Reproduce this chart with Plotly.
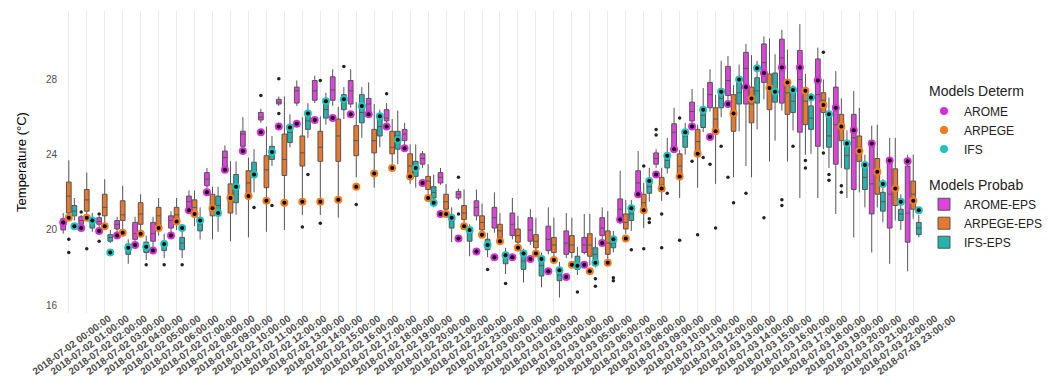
import plotly.graph_objects as go

hours = [
    "2018-07-02 00:00:00", "2018-07-02 01:00:00", "2018-07-02 02:00:00", "2018-07-02 03:00:00",
    "2018-07-02 04:00:00", "2018-07-02 05:00:00", "2018-07-02 06:00:00", "2018-07-02 07:00:00",
    "2018-07-02 08:00:00", "2018-07-02 09:00:00", "2018-07-02 10:00:00", "2018-07-02 11:00:00",
    "2018-07-02 12:00:00", "2018-07-02 13:00:00", "2018-07-02 14:00:00", "2018-07-02 15:00:00",
    "2018-07-02 16:00:00", "2018-07-02 17:00:00", "2018-07-02 18:00:00", "2018-07-02 19:00:00",
    "2018-07-02 20:00:00", "2018-07-02 21:00:00", "2018-07-02 22:00:00", "2018-07-02 23:00:00",
    "2018-07-03 00:00:00", "2018-07-03 01:00:00", "2018-07-03 02:00:00", "2018-07-03 03:00:00",
    "2018-07-03 04:00:00", "2018-07-03 05:00:00", "2018-07-03 06:00:00", "2018-07-03 07:00:00",
    "2018-07-03 08:00:00", "2018-07-03 09:00:00", "2018-07-03 10:00:00", "2018-07-03 11:00:00",
    "2018-07-03 12:00:00", "2018-07-03 13:00:00", "2018-07-03 14:00:00", "2018-07-03 15:00:00",
    "2018-07-03 16:00:00", "2018-07-03 17:00:00", "2018-07-03 18:00:00", "2018-07-03 19:00:00",
    "2018-07-03 20:00:00", "2018-07-03 21:00:00", "2018-07-03 22:00:00", "2018-07-03 23:00:00",
]

# ---- deterministic runs ----
arome_det = [20.4, 20.1, 19.95, 19.7, 19.2, 18.9, 19.7, 21.05, 22.0, 23.2, 24.2, 25.2,
             25.5, 25.65, 25.85, 25.95, 26.15, 26.15, 25.5, 24.35, 22.5, 20.85, 19.55, 18.85,
             18.55, 18.55, 18.45, 17.8, 17.5, 18.15, 19.3, 20.55, 21.9, 22.95, 24.3, 25.5,
             24.95, 26.7, 27.6, 28.35, 28.65, 28.65, 27.95, 26.5, 25.3, 24.6, 23.7, 23.65]
arpege_det = [20.65, 20.65, 20.2, 19.85, 19.8, 20.1, 20.45, 20.85, 21.15, 21.7, 21.8, 21.55,
              21.45, 21.5, 21.5, 21.6, 22.3, 23.0, 23.3, 22.85, 21.7, 20.85, 20.2, 19.75,
              19.4, 19.05, 18.75, 18.4, 18.15, 17.8, 18.25, 19.55, 21.05, 22.2, 22.85, 24.05,
              25.25, 26.2, 27.0, 27.55, 27.85, 27.4, 26.65, 25.5, 24.2, 23.1, 22.2, 21.55]
ifs_det = [20.2, 20.5, 18.8, 19.05, 19.1, 19.25, 20.1, 20.5, 20.9, 22.3, 22.95, 24.15,
           25.45, 26.2, 26.85, 26.95, 26.6, 26.05, 24.8, 23.3, 21.45, 20.65, 20.0, 19.2,
           18.65, 18.75, 18.45, 17.85, 18.1, 18.25, 19.5, 21.15, 22.6, 23.95, 25.2, 26.4,
           27.35, 28.0, 28.6, 27.35, 27.45, 27.05, 26.15, 24.6, 23.45, 22.45, 21.5, 21.05]

# ---- ensemble box statistics ----
arome_lo = [19.8, 20.1, 20.1, 19.8, 19.2, 19.1, 19.9, 20.9, 22.1, 23.1, 24.2, 25.7,
            26.6, 26.6, 26.75, 26.6, 26.5, 26.1, 25.7, 24.5, 23.3, 22.4, 21.6, 20.5,
            19.85, 19.5, 19.2, 18.7, 18.5, 18.7, 19.3, 20.3, 21.7, 23.3, 24.1, 25.5,
            26.3, 26.8, 23.4, 26.95, 26.35, 21.7, 21.7, 20.85, 19.6, 18.8, 18.2, 17.8]
arome_q1 = [20.0, 20.3, 20.3, 20.05, 19.5, 19.4, 20.1, 21.2, 22.35, 23.25, 24.45, 25.85,
            26.7, 26.75, 26.9, 26.9, 26.7, 26.2, 25.8, 24.75, 23.5, 22.5, 21.7, 20.75,
            20.1, 19.7, 19.4, 18.9, 18.7, 18.8, 19.7, 20.55, 21.9, 23.5, 24.3, 25.8,
            26.5, 27.15, 26.7, 27.85, 26.75, 25.2, 24.45, 23.5, 22.15, 20.85, 20.1, 19.35]
arome_med = [20.3, 20.5, 20.45, 20.3, 19.8, 19.8, 20.5, 21.5, 22.7, 23.85, 25.1, 26.0,
             26.8, 27.4, 27.4, 27.45, 27.4, 26.7, 25.95, 25.1, 23.8, 22.8, 21.9, 21.2,
             20.65, 20.3, 20.0, 19.5, 19.3, 19.2, 20.1, 21.1, 22.5, 23.8, 25.2, 26.3,
             27.2, 27.95, 28.6, 28.9, 29.15, 28.0, 27.2, 25.6, 24.9, 22.45, 21.9, 20.9]
arome_q3 = [20.6, 20.7, 20.65, 20.5, 20.4, 20.4, 20.75, 21.8, 23.05, 24.2, 25.25, 26.25,
            26.95, 27.6, 27.95, 28.15, 27.95, 27.0, 26.4, 25.35, 24.05, 23.05, 22.05, 21.55,
            21.2, 20.9, 20.65, 20.2, 19.95, 19.6, 20.65, 21.65, 23.15, 24.1, 25.65, 26.8,
            27.85, 28.7, 29.45, 29.9, 30.15, 29.55, 29.1, 27.6, 26.15, 24.55, 23.65, 23.4]
arome_hi = [20.9, 20.8, 20.75, 20.7, 20.7, 20.7, 21.0, 22.1, 23.3, 24.5, 26.0, 26.45,
            27.1, 27.95, 28.2, 28.55, 28.55, 27.85, 26.75, 25.7, 24.2, 23.3, 22.2, 22.15,
            22.0, 21.7, 21.1, 21.2, 20.9, 20.85, 21.2, 23.15, 24.2, 24.3, 26.5, 27.5,
            28.55, 29.25, 29.9, 30.3, 30.65, 30.95, 29.7, 28.45, 27.4, 25.55, 24.9, 24.0]

arpege_lo = [20.6, 20.65, 20.1, 19.85, 19.7, 19.7, 20.0, 20.2, 19.5, 19.4, 19.6, 19.9,
             20.0, 20.8, 20.8, 20.65, 22.8, 22.25, 23.5, 22.45, 21.8, 20.75, 20.1, 19.7,
             19.35, 19.1, 18.8, 18.5, 18.5, 18.1, 18.4, 19.8, 20.1, 21.55, 21.7, 22.25,
             22.45, 22.8, 22.8, 23.65, 23.65, 24.0, 24.3, 23.3, 22.0, 21.2, 20.5, 20.6]
arpege_q1 = [20.9, 21.0, 20.75, 20.5, 20.3, 20.1, 20.4, 20.75, 20.75, 20.9, 21.95, 22.25,
             22.9, 23.4, 23.65, 23.65, 23.95, 24.1, 24.05, 22.95, 22.15, 21.1, 20.55, 20.0,
             19.6, 19.35, 19.05, 18.8, 18.8, 18.6, 18.7, 20.05, 21.0, 22.05, 22.85, 24.05,
             25.2, 25.25, 25.7, 26.4, 26.15, 25.6, 26.25, 24.75, 23.65, 21.9, 21.3, 21.1]
arpege_med = [21.8, 21.6, 21.2, 20.8, 20.85, 20.75, 20.8, 21.2, 21.2, 21.7, 22.5, 23.2,
              23.75, 24.1, 24.4, 25.0, 24.75, 24.75, 24.4, 23.4, 22.6, 21.5, 20.9, 20.4,
              19.95, 19.7, 19.4, 19.2, 19.2, 19.2, 19.3, 20.4, 21.45, 22.4, 23.4, 24.7,
              25.9, 26.25, 26.7, 27.4, 27.3, 26.85, 26.9, 25.55, 24.4, 23.15, 22.35, 21.9]
arpege_q3 = [22.55, 22.15, 21.9, 21.55, 21.45, 21.2, 21.2, 21.6, 21.9, 22.45, 23.15, 23.95,
             25.1, 25.0, 25.25, 25.9, 25.55, 25.35, 25.25, 24.05, 22.85, 21.9, 21.3, 20.75,
             20.3, 20.05, 19.75, 19.6, 19.7, 19.8, 19.95, 20.85, 21.9, 22.8, 24.05, 25.35,
             26.5, 27.2, 27.6, 28.3, 27.95, 27.4, 27.3, 26.15, 25.0, 23.8, 23.25, 22.6]
arpege_hi = [23.7, 23.05, 22.7, 22.35, 21.9, 21.7, 21.7, 22.1, 22.3, 23.65, 23.85, 25.5,
             27.1, 26.0, 26.05, 26.55, 26.8, 26.7, 25.9, 24.55, 23.5, 22.45, 22.15, 21.4,
             20.9, 20.75, 20.65, 20.65, 20.65, 20.85, 21.0, 21.6, 22.5, 23.3, 24.25, 25.6,
             27.2, 27.7, 29.3, 30.2, 29.6, 28.3, 28.0, 27.0, 26.5, 25.6, 24.9, 24.0]

ifs_lo = [20.5, 19.9, 19.3, 18.2, 18.4, 18.5, 18.5, 19.5, 19.9, 20.8, 22.0, 23.4,
          24.4, 24.9, 25.6, 25.9, 24.9, 24.4, 23.5, 22.25, 21.2, 19.35, 18.6, 18.55,
          17.65, 17.2, 16.95, 16.4, 17.6, 18.0, 18.8, 19.95, 21.5, 23.0, 24.0, 25.2,
          26.0, 25.25, 25.35, 24.75, 25.3, 24.05, 23.3, 21.7, 21.2, 20.4, 20.0, 19.6]
ifs_q1 = [20.75, 20.1, 19.4, 18.7, 18.8, 18.9, 18.95, 19.95, 20.85, 21.45, 22.8, 23.75,
          24.65, 25.35, 25.95, 26.4, 25.7, 25.0, 24.3, 22.85, 21.7, 20.1, 19.4, 18.95,
          18.2, 17.9, 17.55, 17.3, 17.9, 18.35, 19.05, 20.5, 21.95, 23.3, 24.4, 25.45,
          26.5, 26.7, 26.75, 26.8, 26.25, 25.35, 24.4, 23.25, 22.15, 21.0, 20.5, 19.75]
ifs_med = [21.0, 20.4, 19.6, 19.0, 19.05, 19.15, 19.3, 20.3, 21.3, 22.25, 23.05, 24.2,
           25.2, 25.8, 26.4, 26.8, 26.25, 25.5, 25.0, 23.35, 22.0, 20.45, 19.8, 19.25,
           18.5, 18.35, 18.1, 17.6, 18.2, 18.7, 19.3, 20.85, 22.3, 23.7, 25.0, 26.1,
           27.0, 27.3, 27.4, 27.4, 26.85, 25.95, 25.0, 23.95, 22.8, 21.5, 20.85, 20.1]
ifs_q3 = [21.3, 20.65, 19.75, 19.25, 19.35, 19.4, 19.6, 20.65, 21.8, 22.95, 23.6, 24.45,
          25.55, 26.25, 26.95, 27.2, 27.2, 26.15, 25.25, 23.65, 22.3, 20.75, 20.05, 19.5,
          18.8, 18.7, 18.55, 18.0, 18.6, 19.05, 19.6, 21.2, 22.7, 24.05, 25.25, 26.5,
          27.5, 28.1, 28.1, 28.35, 27.5, 26.6, 26.15, 24.65, 23.5, 22.0, 21.1, 20.4]
ifs_hi = [21.7, 20.9, 20.0, 19.5, 19.7, 19.8, 20.0, 21.2, 22.3, 23.65, 24.3, 25.0,
          26.15, 26.75, 27.3, 27.6, 27.6, 26.4, 26.35, 24.55, 22.95, 21.2, 20.3, 19.85,
          19.05, 19.0, 18.8, 18.3, 19.1, 19.6, 19.95, 21.6, 23.3, 24.9, 25.7, 27.55,
          29.0, 28.8, 29.0, 29.35, 27.7, 27.3, 27.05, 25.3, 24.0, 22.7, 21.9, 20.8]

# ---- ensemble outliers (hour, value) ----
arome_out_x = [hours[1], hours[2], hours[2], hours[11], hours[12], hours[12], hours[18],
               hours[22], hours[22], hours[33], hours[33], hours[35], hours[36], hours[37],
               hours[38], hours[39], hours[40], hours[40]]
arome_out_y = [20.95, 20.85, 19.4, 27.15, 28.05, 26.2, 27.25, 22.8, 20.85, 25.35, 25.05,
               23.65, 23.5, 22.8, 21.95, 20.65, 21.6, 21.3]
arpege_out_x = [hours[0], hours[0], hours[1], hours[13], hours[14], hours[14], hours[16],
                hours[32], hours[32], hours[33], hours[33], hours[34], hours[34], hours[35],
                hours[36], hours[37], hours[41], hours[41], hours[42], hours[42], hours[43],
                hours[43]]
arpege_out_y = [19.5, 18.8, 19.0, 20.15, 20.35, 27.95, 21.35, 23.4, 19.0, 20.85, 19.05,
                25.95, 19.45, 19.75, 20.1, 21.45, 23.7, 23.3, 29.45, 24.1, 22.35, 22.0]
ifs_out_x = [hours[4], hours[5], hours[6], hours[10], hours[11], hours[13], hours[15],
             hours[23], hours[24], hours[28], hours[29], hours[29], hours[30], hours[30],
             hours[31], hours[32], hours[32], hours[33], hours[35], hours[36], hours[40],
             hours[42], hours[42]]
ifs_out_y = [18.15, 18.15, 18.15, 21.2, 21.3, 22.95, 28.7, 17.9, 17.15, 16.7, 17.4, 17.0,
             17.45, 17.3, 18.95, 20.6, 20.4, 21.95, 23.85, 24.45, 24.45, 22.95, 22.65]

det_names = ["AROME", "ARPEGE", "IFS"]
eps_names = ["AROME-EPS", "ARPEGE-EPS", "IFS-EPS"]
box_colors = ["#E042DD", "#E8782C", "#25B3AE"]
det_colors = ["#D62ED6", "#F07C1C", "#1FC4BE"]
groups = ["g1", "g2", "g3"]

dets = [arome_det, arpege_det, ifs_det]
stats = [
    (arome_lo, arome_q1, arome_med, arome_q3, arome_hi),
    (arpege_lo, arpege_q1, arpege_med, arpege_q3, arpege_hi),
    (ifs_lo, ifs_q1, ifs_med, ifs_q3, ifs_hi),
]
outs = [(arome_out_x, arome_out_y), (arpege_out_x, arpege_out_y), (ifs_out_x, ifs_out_y)]

FONT = "Liberation Sans, Arial, sans-serif"
fig = go.Figure()

# deterministic points (legend group 1)
for i in range(3):
    fig.add_trace(go.Scatter(
        x=hours, y=dets[i], mode="markers", name=det_names[i],
        marker=dict(size=8, color=det_colors[i], line=dict(width=0)),
        offsetgroup=groups[i], legendgroup="det",
        legendgrouptitle=dict(text="Models Determ", font=dict(size=14, color="#222")),
    ))
for i in range(3):
    fig.add_trace(go.Scatter(
        x=hours, y=dets[i], mode="markers", showlegend=False, hoverinfo="skip",
        marker=dict(size=4, color="black"), offsetgroup=groups[i], legendgroup="det",
    ))
    fig.add_trace(go.Scatter(
        x=outs[i][0], y=outs[i][1], mode="markers", showlegend=False,
        marker=dict(size=3.5, color="#222"), offsetgroup=groups[i], legendgroup="prob",
    ))

# ensemble boxes (legend group 2)
for i in range(3):
    lo, q1, med, q3, hi = stats[i]
    fig.add_trace(go.Box(
        x=hours, lowerfence=lo, q1=q1, median=med, q3=q3, upperfence=hi,
        name=eps_names[i], fillcolor=box_colors[i],
        line=dict(color="#555555", width=1), whiskerwidth=0,
        boxpoints=False, offsetgroup=groups[i], legendgroup="prob",
        legendgrouptitle=dict(text="Models Probab", font=dict(size=14, color="#222")),
    ))

fig.update_layout(
    width=1051, height=380,
    margin=dict(l=50, r=135, t=3, b=75),
    paper_bgcolor="white", plot_bgcolor="white",
    font=dict(family=FONT, color="#222"),
    boxmode="group", boxgap=0.07, boxgroupgap=0.15,
    scattermode="group", scattergap=0.07,
    legend=dict(
        x=1.0, xanchor="left", y=0.787, yanchor="top",
        font=dict(size=12, color="#222"), tracegroupgap=15,
        itemwidth=30, bgcolor="rgba(0,0,0,0)",
    ),
    xaxis=dict(
        type="category", range=[-0.6, 47.6], showgrid=True, gridcolor="#EBEBEB",
        gridwidth=1, zeroline=False, showline=False, ticks="", tickangle=-36,
        tickfont=dict(size=10, color="#4D4D4D", weight="bold",
                      family="Liberation Sans, Arial, sans-serif"),
        ticklabelshift=40, ticklabelstandoff=-3, automargin=False,
    ),
    yaxis=dict(
        range=[15.58, 31.65], tickvals=[16, 20, 24, 28], showgrid=False,
        zeroline=False, showline=False, ticks="",
        tickfont=dict(size=10, color="#4D4D4D", family=FONT),
        title=dict(text="Temperature (°C)", font=dict(size=13, color="black"), standoff=16),
        automargin=False,
    ),
)

fig.write_html("out.html")
